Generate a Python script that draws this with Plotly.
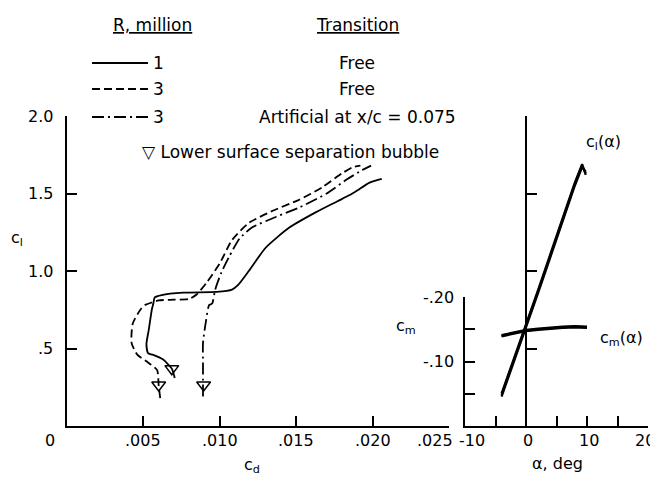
import plotly.graph_objects as go

# page body has an 8px margin, so the figure is drawn 8px in from the window corner
OFF = 8
W, H = 650, 472

# ---------------- data ----------------
# Left plot: c_l vs c_d
cd_r1 = [0.00705, 0.00686, 0.00627, 0.00560, 0.00530, 0.00520, 0.00535, 0.00555, 0.00565, 0.00574,
         0.0062, 0.0076, 0.0098, 0.0108, 0.0112, 0.0119, 0.0130, 0.01455, 0.0163, 0.0177,
         0.0185, 0.0190, 0.0198, 0.0204, 0.0206]
cl_r1 = [0.31, 0.37, 0.43, 0.46, 0.47, 0.53, 0.62, 0.75, 0.79, 0.83,
         0.845, 0.86, 0.865, 0.88, 0.91, 1.00, 1.15, 1.28, 1.38, 1.45,
         1.49, 1.52, 1.57, 1.59, 1.595]

cd_r3f = [0.0061, 0.0060, 0.0059, 0.0053, 0.0046, 0.00423, 0.0043, 0.0048, 0.0051, 0.0060,
          0.0070, 0.0080, 0.0085, 0.0091, 0.0100, 0.0108, 0.0119, 0.0135, 0.0152, 0.0167,
          0.0180, 0.0187, 0.0192]
cl_r3f = [0.18, 0.26, 0.36, 0.41, 0.46, 0.535, 0.66, 0.75, 0.78, 0.81,
          0.815, 0.82, 0.85, 0.92, 1.05, 1.20, 1.31, 1.39, 1.46, 1.54,
          1.63, 1.67, 1.68]

cd_r3a = [0.0089, 0.0089, 0.0089, 0.0089, 0.0091, 0.0093, 0.0095, 0.0097, 0.0101, 0.0106,
          0.0113, 0.0121, 0.0137, 0.0152, 0.0170, 0.0183, 0.0193, 0.0199]
cl_r3a = [0.19, 0.265, 0.41, 0.535, 0.68, 0.78, 0.79, 0.88, 0.99, 1.09,
          1.21, 1.28, 1.35, 1.41, 1.50, 1.59, 1.65, 1.68]

# separation-bubble symbols
cd_bubble = [0.00686, 0.0060, 0.00894]
cl_bubble = [0.37, 0.265, 0.265]

# Right plot: c_l(alpha) and c_m(alpha)
alpha_cl = [-4.0, -2.0, 0.0, 2.0, 4.0, 6.0, 8.0, 9.2, 9.8]
cl_a_r1 = [0.20, 0.42, 0.64, 0.87, 1.10, 1.33, 1.56, 1.68, 1.63]
cl_a_r3f = [0.21, 0.43, 0.65, 0.88, 1.11, 1.34, 1.57, 1.69, 1.62]
cl_a_r3a = [0.19, 0.41, 0.63, 0.86, 1.09, 1.32, 1.55, 1.67, 1.64]

alpha_cm = [-4.0, -2.0, 0.0, 2.0, 4.0, 6.0, 8.0, 10.0]
cm_r1 = [-0.140, -0.144, -0.148, -0.150, -0.152, -0.153, -0.154, -0.153]
cm_r3f = [-0.141, -0.145, -0.149, -0.151, -0.153, -0.154, -0.155, -0.154]
cm_r3a = [-0.139, -0.143, -0.147, -0.149, -0.151, -0.152, -0.153, -0.152]

# tick labels
cd_ticks = [0.005, 0.010, 0.015, 0.020, 0.025]
cd_ticklabels = [".005", ".010", ".015", ".020", ".025"]
cl_ticks = [0.5, 1.0, 1.5, 2.0]
cl_ticklabels = [".5", "1.0", "1.5", "2.0"]
alpha_ticks = [-5, 0, 5, 10, 15, 20]
alpha_labvals = [-10, 0, 10, 20]
alpha_ticklabels = ["-10", "0", "10", "20"]
cm_ticks = [-0.05, -0.10, -0.15, -0.20]
cm_labvals = [-0.10, -0.20]
cm_ticklabels = ["-.10", "-.20"]

legend_R = ["1", "3", "3"]
legend_trans = ["Free", "Free", "Artificial at x/c = 0.075"]

# ---------------- styling ----------------
FONT = "DejaVu Sans"
FS = 16
FS_TXT = 17
BLACK = "#000"
dash_styles = ["solid", "8px,4px", "12px,4px,2px,4px"]


def px(x):
    return (x - OFF) / W


def py(y):
    return 1 - (y - OFF) / H


x_dom = [px(67), px(449)]
y_dom = [py(426), py(116)]
x2_dom = [px(465), px(648)]
y2_dom = [py(426), py(297)]
alpha0_pos = x2_dom[0] + (0 - (-10)) / 30 * (x2_dom[1] - x2_dom[0])

fig = go.Figure()

for cdv, clv, d in [(cd_r1, cl_r1, dash_styles[0]), (cd_r3f, cl_r3f, dash_styles[1]), (cd_r3a, cl_r3a, dash_styles[2])]:
    fig.add_trace(go.Scatter(x=cdv, y=clv, mode="lines",
                             line=dict(color=BLACK, width=1.8, dash=d, shape="spline", smoothing=0.6),
                             xaxis="x", yaxis="y", showlegend=False, hoverinfo="skip"))

fig.add_trace(go.Scatter(x=cd_bubble, y=cl_bubble, mode="markers",
                         marker=dict(symbol="triangle-down-open", size=12, color=BLACK, line=dict(width=1.5)),
                         xaxis="x", yaxis="y", showlegend=False, hoverinfo="skip"))

for clv in [cl_a_r1, cl_a_r3f, cl_a_r3a]:
    fig.add_trace(go.Scatter(x=alpha_cl, y=clv, mode="lines", line=dict(color=BLACK, width=2.2),
                             xaxis="x2", yaxis="y3", showlegend=False, hoverinfo="skip"))
for cmv in [cm_r1, cm_r3f, cm_r3a]:
    fig.add_trace(go.Scatter(x=alpha_cm, y=cmv, mode="lines", line=dict(color=BLACK, width=2.2),
                             xaxis="x2", yaxis="y2", showlegend=False, hoverinfo="skip"))

axis_common = dict(showgrid=False, zeroline=False, showline=True, linecolor=BLACK, linewidth=2,
                   ticks="inside", ticklen=10, tickwidth=1.6, tickcolor=BLACK, showticklabels=False)

fig.update_layout(
    width=W, height=H, margin=dict(l=0, r=0, t=0, b=0),
    paper_bgcolor="white", plot_bgcolor="rgba(0,0,0,0)",
    font=dict(family=FONT, size=FS, color=BLACK),
    xaxis=dict(domain=x_dom, range=[0, 0.025], anchor="y", tickvals=cd_ticks, **axis_common),
    yaxis=dict(domain=y_dom, range=[0, 2.0], anchor="x", tickvals=cl_ticks, **axis_common),
    xaxis2=dict(domain=x2_dom, range=[-10, 20], anchor="y2", tickvals=alpha_ticks, **axis_common),
    yaxis2=dict(domain=y2_dom, range=[0, -0.20], anchor="x2", tickvals=cm_ticks, **axis_common),
    yaxis3=dict(domain=y_dom, range=[0, 2.0], anchor="free", position=alpha0_pos, tickvals=cl_ticks,
                **axis_common),
)


def label(x, y, text, xa="center", ya="middle", size=FS):
    return dict(x=px(x), y=py(y), xref="paper", yref="paper", text=text, showarrow=False,
                xanchor=xa, yanchor=ya, font=dict(size=size))


ann = []
# left x tick labels
for v, t in zip(cd_ticks, cd_ticklabels):
    xs = -14 if t == ".025" else 0
    ann.append(dict(x=v, y=0, xref="x", yref="y domain", text=t, showarrow=False,
                    xanchor="center", yanchor="top", yshift=-3, xshift=xs))
ann.append(dict(x=0, y=0, xref="x", yref="y domain", text="0", showarrow=False,
                xanchor="center", yanchor="top", yshift=-3, xshift=-17))
# left y tick labels
for v, t in zip(cl_ticks, cl_ticklabels):
    ann.append(dict(x=0, y=v, xref="x domain", yref="y", text=t, showarrow=False,
                    xanchor="right", yanchor="middle", xshift=-12))
# alpha tick labels
for v, t in zip(alpha_labvals, alpha_ticklabels):
    if t == "20":
        ann.append(dict(x=v, y=0, xref="x2", yref="y2 domain", text=t, showarrow=False,
                        xanchor="right", yanchor="top", yshift=-3, xshift=9))
    else:
        xs = 7 if t == "-10" else 2
        ann.append(dict(x=v, y=0, xref="x2", yref="y2 domain", text=t, showarrow=False,
                        xanchor="center", yanchor="top", yshift=-3, xshift=xs))
# cm tick labels
for v, t in zip(cm_labvals, cm_ticklabels):
    ann.append(dict(x=0, y=v, xref="x2 domain", yref="y2", text=t, showarrow=False,
                    xanchor="right", yanchor="middle", xshift=-9))

# axis titles and curve labels
ann += [
    label(252, 465, "c<sub>d</sub>"),
    label(17, 238, "c<sub>l</sub>"),
    label(557, 463, "α, deg"),
    label(406, 326, "c<sub>m</sub>"),
    label(603, 142, "c<sub>l</sub>(α)"),
    label(621, 338, "c<sub>m</sub>(α)"),
    label(140, 152, "▽ Lower surface separation bubble", xa="left", size=FS_TXT),
    label(152, 25, "<u>R, million</u>", size=FS_TXT),
    label(357, 25, "<u>Transition</u>", size=FS_TXT),
]

row_y = [63, 89, 117]
shapes = []
for ry, d, r, tr in zip(row_y, dash_styles, legend_R, legend_trans):
    shapes.append(dict(type="line", xref="paper", yref="paper", x0=px(92), x1=px(148), y0=py(ry), y1=py(ry),
                       line=dict(color=BLACK, width=1.8, dash=d)))
    ann.append(label(151, ry, r, xa="left", size=FS_TXT))
    ann.append(label(357, ry, tr, size=FS_TXT))

fig.update_layout(annotations=ann, shapes=shapes)
fig.write_html("out.html")
